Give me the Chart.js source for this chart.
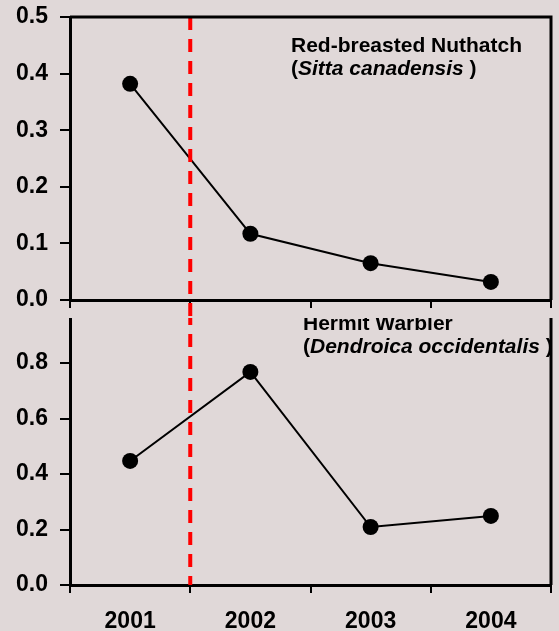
<!DOCTYPE html>
<html>
<head>
<meta charset="utf-8">
<script src="https://cdn.jsdelivr.net/npm/chart.js@4/dist/chart.umd.min.js"></script>
<style>
  html, body { margin: 0; padding: 0; background: #e0d8d8; }
  #wrap { position: relative; width: 559px; height: 631px; overflow: hidden; }
  #top { position: absolute; left: 0; top: 0; z-index: 2; }
  #bottom { position: absolute; left: 0; top: 290px; z-index: 1; }
</style>
</head>
<body>
<div id="wrap">
  <canvas id="top" width="559" height="318"></canvas>
  <canvas id="bottom" width="559" height="341"></canvas>
</div>
<script>
/* DATA */
var years = ['2001', '2002', '2003', '2004'];
var nuthatch = [0.382, 0.117, 0.065, 0.032];
var warbler = [0.447, 0.768, 0.209, 0.249];
var nuthatchName = ['Red-breasted Nuthatch', 'Sitta canadensis'];
var warblerName = ['Hermit Warbler', 'Dendroica occidentalis'];
var dividerAt = 0.5; // between 2001 and 2002
/* DATA */

var bg = '#e0d8d8';
var fontName = '"Liberation Sans", Arial, sans-serif';

function drawTitle(ctx, x, y, name) {
    ctx.fillStyle = '#000';
    ctx.textAlign = 'left';
    ctx.textBaseline = 'alphabetic';
    ctx.font = 'bold 21px ' + fontName;
    ctx.fillText(name[0], x, y);
    var cx = x;
    ctx.fillText('(', cx, y + 23);
    cx += ctx.measureText('(').width;
    ctx.font = 'italic bold 21px ' + fontName;
    ctx.fillText(name[1], cx, y + 23);
    cx += ctx.measureText(name[1]).width;
    ctx.font = 'bold 21px ' + fontName;
    ctx.fillText(' )', cx, y + 23);
}

var panel = {
    id: 'panel',
    beforeDraw: function(chart) {
        var ctx = chart.ctx;
        ctx.save();
        ctx.fillStyle = bg;
        ctx.fillRect(0, 0, chart.width, chart.height);
        ctx.restore();
    },
    afterDatasetsDraw: function(chart, args, opts) {
        var ctx = chart.ctx, a = chart.chartArea;
        var x = chart.scales.x.getPixelForValue(dividerAt);
        ctx.save();
        ctx.strokeStyle = '#ff0000';
        ctx.lineWidth = 4;
        ctx.setLineDash([13, 9]);
        ctx.beginPath();
        ctx.moveTo(x, opts.upper ? a.top : 0);
        ctx.lineTo(x, opts.upper ? chart.height : a.bottom);
        ctx.stroke();
        ctx.restore();
    },
    afterDraw: function(chart, args, opts) {
        var ctx = chart.ctx, a = chart.chartArea;
        ctx.save();
        ctx.strokeStyle = '#000';
        ctx.lineWidth = 3;
        ctx.beginPath();
        ctx.moveTo(a.left, a.top);
        ctx.lineTo(a.right, a.top);
        ctx.lineTo(a.right, a.bottom);
        ctx.stroke();
        drawTitle(ctx, opts.titleX, opts.titleY, opts.name);
        ctx.restore();
    }
};

function makeConfig(values, yMax, yStep, upper, name, titleX, titleY, padTop, xHeight) {
    return {
        type: 'line',
        data: {
            labels: years,
            datasets: [{
                data: values,
                borderColor: '#000',
                borderWidth: 2,
                pointRadius: 8,
                pointBackgroundColor: '#000',
                pointBorderWidth: 0,
                tension: 0,
                clip: false
            }]
        },
        options: {
            responsive: false,
            animation: false,
            layout: { padding: { top: padTop, right: 8, left: 0, bottom: 0 } },
            plugins: {
                legend: { display: false },
                tooltip: { enabled: false },
                panel: { upper: upper, name: name, titleX: titleX, titleY: titleY }
            },
            scales: {
                x: {
                    type: 'category',
                    offset: true,
                    afterFit: function(s) { s.height = xHeight; },
                    border: { color: '#000', width: 3 },
                    grid: { offset: true, drawOnChartArea: false, drawTicks: true, tickLength: 8, color: '#000', lineWidth: 2 },
                    ticks: {
                        display: !upper,
                        color: '#000',
                        padding: 15,
                        font: { family: fontName, size: 23, weight: 'bold' }
                    }
                },
                y: {
                    min: 0,
                    max: yMax,
                    afterFit: function(s) {
                        s.width = 70;
                        s.paddingTop = 0;
                        s.paddingBottom = 0;
                    },
                    border: { color: '#000', width: 3 },
                    grid: { drawOnChartArea: false, drawTicks: true, tickLength: 10, color: '#000', lineWidth: 2 },
                    ticks: {
                        stepSize: yStep,
                        padding: 12,
                        color: '#000',
                        font: { family: fontName, size: 23, weight: 'bold' },
                        callback: function(v) { return v > 0.95 ? '' : v.toFixed(1); }
                    }
                }
            }
        },
        plugins: [panel]
    };
}

window.onload = function() {
    new Chart(document.getElementById('bottom').getContext('2d'),
        makeConfig(warbler, 1.0, 0.2, false, warblerName, 303, 40, 17.5, 46));
    new Chart(document.getElementById('top').getContext('2d'),
        makeConfig(nuthatch, 0.5, 0.1, true, nuthatchName, 291, 52, 17, 18));
};
</script>
</body>
</html>
